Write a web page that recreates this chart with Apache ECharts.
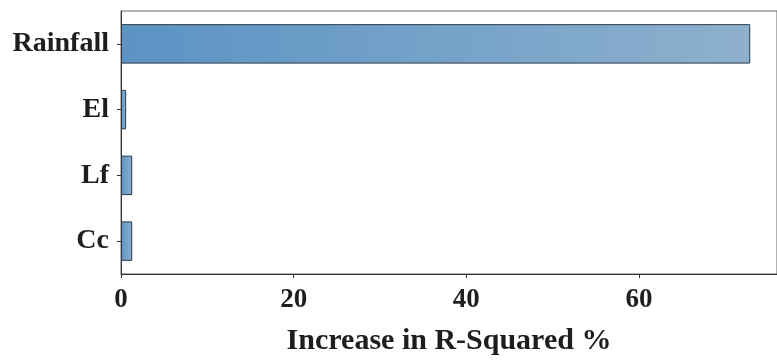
<!DOCTYPE html>
<html>
<head>
<meta charset="utf-8">
<script src="https://cdn.jsdelivr.net/npm/echarts@6/dist/echarts.min.js"></script>
<style>html,body{margin:0;padding:0;background:#fff}#c{width:777px;height:360px}</style>
</head>
<body>
<div id="c"></div>
<script>
const categories = ['Cc', 'Lf', 'El', 'Rainfall'];
const values = [1.3, 1.3, 0.6, 72.9];
const xTicks = [0, 20, 40, 60];
const axisTitle = 'Increase in R-Squared %';

const chart = echarts.init(document.getElementById('c'), null, {renderer: 'canvas'});
const font = 'Liberation Serif';
chart.setOption({
  animation: false,
  grid: {left: 121, right: 0, top: 11, bottom: 86, outerBoundsMode: 'none', containLabel: false,
    show: true, borderColor: '#666', borderWidth: 1, backgroundColor: '#fff'},
  xAxis: {
    type: 'value', min: 0, max: 76, interval: 20,
    name: axisTitle, nameLocation: 'middle', nameGap: 52,
    nameTextStyle: {fontFamily: font, fontWeight: 'bold', fontSize: 30, color: '#1e1e1e'},
    axisLine: {show: true, lineStyle: {color: '#333', width: 1}},
    axisTick: {show: true, length: 4, lineStyle: {color: '#333'}},
    splitLine: {show: false},
    axisLabel: {fontFamily: font, fontWeight: 'bold', fontSize: 27, color: '#1e1e1e', margin: 13, showMaxLabel: false,
      formatter: v => xTicks.includes(v) ? String(v) : ''}
  },
  yAxis: {
    type: 'category', data: categories,
    axisLine: {show: true, lineStyle: {color: '#333', width: 1}},
    axisTick: {show: true, alignWithLabel: true, length: 4, lineStyle: {color: '#333'}},
    axisLabel: {fontFamily: font, fontWeight: 'bold', fontSize: 28, color: '#1e1e1e', margin: 12}
  },
  series: [{
    type: 'bar', data: values, barWidth: '60%',
    itemStyle: {
      color: new echarts.graphic.LinearGradient(0, 0, 1, 0, [
        {offset: 0, color: '#5b93c4'}, {offset: 1, color: '#8eb0cd'}
      ], false),
      borderColor: '#2c3a48', borderWidth: 1
    }
  }]
});
</script>
</body>
</html>
